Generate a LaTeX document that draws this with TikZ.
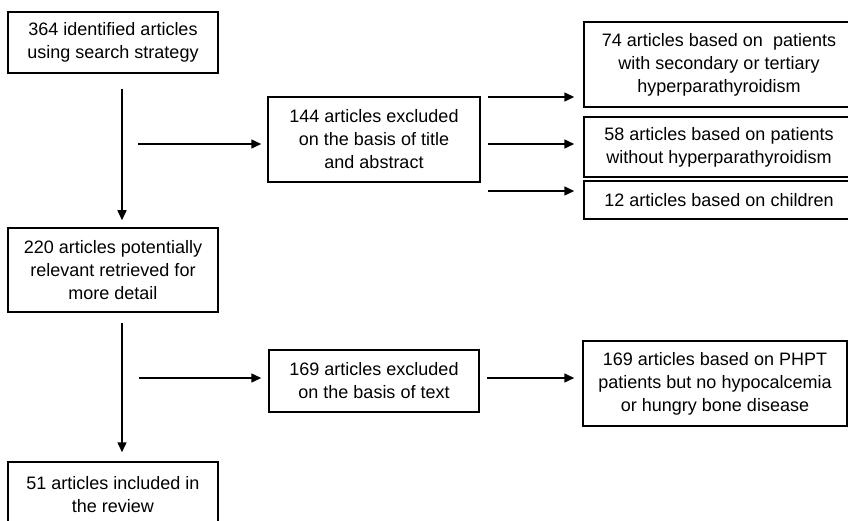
\documentclass[tikz,border=0pt]{standalone}
\usepackage{fontspec}
\setmainfont{Liberation Sans}
\usetikzlibrary{arrows.meta}
\tikzstyle{flowbox} = [draw=black,line width=1.5pt,rectangle,inner sep=0pt,
  align=center,font=\fontsize{18}{23}\selectfont]
\tikzstyle{flowarrow} = [draw=black,line width=1.5pt,
  -{Triangle[length=10pt,width=9pt]}]

\begin{document}
\begin{tikzpicture}[x=1pt,y=-1pt]
    \useasboundingbox (0,0) rectangle (848,521);
    % main column
    \node [flowbox, minimum width=210pt, minimum height=61pt] (identified) at (113,42.5) {%
      364 identified articles\\using search strategy};
    \node [flowbox, minimum width=210pt, minimum height=84pt] (relevant) at (113,270) {%
      220 articles potentially\\relevant retrieved for\\more detail};
    \node [flowbox, minimum width=210pt, minimum height=66pt] (included) at (113,495) {%
      51 articles included in\\the review};
    % excluded boxes
    \node [flowbox, minimum width=212pt, minimum height=85pt] (titleexcl) at (374,139.5) {%
      144 articles excluded\\on the basis of title\\and abstract};
    \node [flowbox, minimum width=210pt, minimum height=62pt] (textexcl) at (374,381) {%
      169 articles excluded\\on the basis of text};
    % reasons
    \node [flowbox, minimum width=270pt, minimum height=85pt] (secondary) at (719,64.5) {%
      74 articles based on~ patients\\with secondary or tertiary\\hyperparathyroidism};
    \node [flowbox, minimum width=270pt, minimum height=60pt] (without) at (719,147) {%
      58 articles based on patients\\without hyperparathyroidism};
    \node [flowbox, minimum width=270pt, minimum height=38pt] (children) at (719,200) {%
      12 articles based on children};
    \node [flowbox, minimum width=264pt, minimum height=85pt] (phpt) at (715,383.5) {%
      169 articles based on PHPT\\patients but no hypocalcemia\\or hungry bone disease};
    % arrows
    \coordinate (spineA) at (122,144);
    \coordinate (spineB) at (122,378);
    \draw [flowarrow, shorten <=15pt, shorten >=7pt]
      (identified.south -| spineA) -- (relevant.north -| spineA);
    \draw [flowarrow, shorten <=10pt, shorten >=9pt]
      (relevant.south -| spineB) -- (included.north -| spineB);
    \draw [flowarrow, shorten <=16pt, shorten >=6pt] (spineA) -- (titleexcl.west |- spineA);
    \draw [flowarrow, shorten <=17pt, shorten >=7pt] (spineB) -- (textexcl.west |- spineB);
    \foreach \ya in {97,144,191} {
      \draw [flowarrow, shorten <=7pt, shorten >=9pt]
        (titleexcl.east |- 0,\ya) -- (secondary.west |- 0,\ya);
    }
    \draw [flowarrow, shorten <=7pt, shorten >=8pt]
      (textexcl.east |- spineB) -- (phpt.west |- spineB);
  \end{tikzpicture}
\end{document}
